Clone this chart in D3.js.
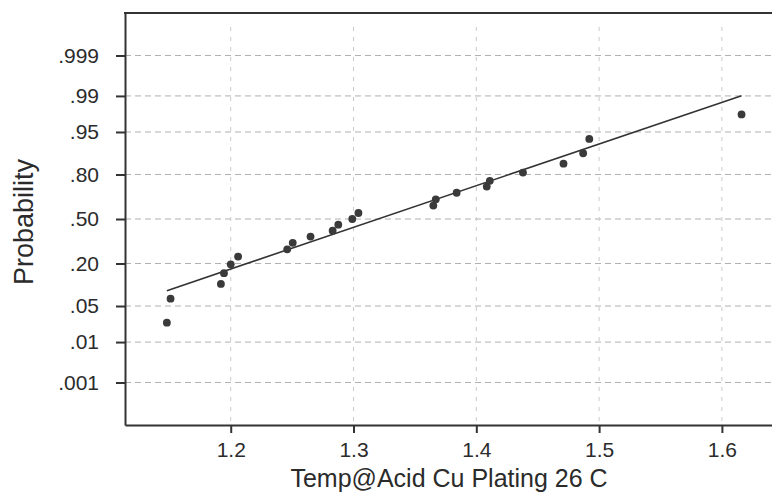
<!DOCTYPE html>
<html>
<head>
<meta charset="utf-8">
<script src="https://cdn.jsdelivr.net/npm/d3@7"></script>
<style>
  body { margin: 0; background: #fff; }
  text { font-family: "Liberation Sans", Arial, sans-serif; fill: #2b2b2b; }
</style>
</head>
<body>
<div id="chart"></div>
<script>
// temperatures, sorted, and their plotting probabilities
var temps = [1.148, 1.151, 1.192, 1.1945, 1.200, 1.206, 1.246, 1.2505, 1.265, 1.283, 1.2876, 1.299,
    1.304, 1.365, 1.367, 1.384, 1.4085, 1.411, 1.438, 1.471, 1.487, 1.492, 1.616];
var probs = [0.025, 0.066, 0.110, 0.153, 0.196, 0.239, 0.283, 0.326, 0.370, 0.413, 0.457, 0.500,
    0.545, 0.600, 0.645, 0.690, 0.730, 0.765, 0.810, 0.852, 0.893, 0.935, 0.976];

var yTickProbs = [0.001, 0.01, 0.05, 0.2, 0.5, 0.8, 0.95, 0.99, 0.999];
var yTickLabels = [".001", ".01", ".05", ".20", ".50", ".80", ".95", ".99", ".999"];
var xTicks = [1.2, 1.3, 1.4, 1.5, 1.6];

// fitted normal line
var fitMean = 1.320, fitSd = 0.127;

// inverse normal cdf (Acklam)
function probit(p) {
    var a = [-3.969683028665376e+01, 2.209460984245205e+02, -2.759285104469687e+02, 1.383577518672690e+02, -3.066479806614716e+01, 2.506628277459239e+00];
    var b = [-5.447609879822406e+01, 1.615858368580409e+02, -1.556989798598866e+02, 6.680131188771972e+01, -1.328068155288572e+01];
    var c = [-7.784894002430293e-03, -3.223964580411365e-01, -2.400758277161838e+00, -2.549732539343734e+00, 4.374664141464968e+00, 2.938163982698783e+00];
    var d = [7.784695709041462e-03, 3.224671290700398e-01, 2.445134137142996e+00, 3.754408661907416e+00];
    var q, r;
    if (p < 0.02425) {
        q = Math.sqrt(-2 * Math.log(p));
        return (((((c[0] * q + c[1]) * q + c[2]) * q + c[3]) * q + c[4]) * q + c[5]) /
            ((((d[0] * q + d[1]) * q + d[2]) * q + d[3]) * q + 1);
    } else if (p > 1 - 0.02425) {
        q = Math.sqrt(-2 * Math.log(1 - p));
        return -(((((c[0] * q + c[1]) * q + c[2]) * q + c[3]) * q + c[4]) * q + c[5]) /
            ((((d[0] * q + d[1]) * q + d[2]) * q + d[3]) * q + 1);
    }
    q = p - 0.5;
    r = q * q;
    return (((((a[0] * r + a[1]) * r + a[2]) * r + a[3]) * r + a[4]) * r + a[5]) * q /
        (((((b[0] * r + b[1]) * r + b[2]) * r + b[3]) * r + b[4]) * r + 1);
}

var margin = { top: 13, right: 0, bottom: 67, left: 125 },
    width = 772 - margin.left - margin.right,
    height = 492 - margin.top - margin.bottom;

var svg = d3.select("#chart")
    .append("svg")
    .attr("width", 772)
    .attr("height", 492)
    .append("g")
    .attr("transform", "translate(" + margin.left + "," + margin.top + ")");

var x = d3.scaleLinear()
    .domain([1.1139, 1.6408])
    .range([0, width]);

var y = d3.scaleLinear()
    .domain([-3.894, 3.894])
    .range([height, 0]);

// grid
svg.selectAll(".hgrid")
    .data(yTickProbs)
    .enter()
    .append("line")
    .attr("x1", 0)
    .attr("x2", width)
    .attr("y1", function (d) { return y(probit(d)) })
    .attr("y2", function (d) { return y(probit(d)) })
    .attr("stroke", "#b0b0b0")
    .attr("stroke-width", 1)
    .attr("stroke-dasharray", "6,4");

svg.selectAll(".vgrid")
    .data(xTicks)
    .enter()
    .append("line")
    .attr("x1", function (d) { return x(d) })
    .attr("x2", function (d) { return x(d) })
    .attr("y1", 14)
    .attr("y2", height)
    .attr("stroke", "#cacaca")
    .attr("stroke-width", 1)
    .attr("stroke-dasharray", "4,6");

// axes
var xAxis = svg.append("g")
    .attr("transform", "translate(0," + height + ")")
    .call(d3.axisBottom(x).tickValues(xTicks).tickSizeInner(8).tickSizeOuter(0).tickPadding(8).tickFormat(d3.format(".1f")));

var yAxis = svg.append("g")
    .call(d3.axisLeft(y)
        .tickValues(yTickProbs.map(probit))
        .tickFormat(function (d, i) { return yTickLabels[i] })
        .tickSizeInner(9).tickSizeOuter(0).tickPadding(17));

[xAxis, yAxis].forEach(function (g) {
    g.select(".domain").attr("stroke", "#333").attr("stroke-width", 2);
    g.selectAll(".tick line").attr("stroke", "#333").attr("stroke-width", 2);
    g.selectAll(".tick text")
        .style("font-family", "'Liberation Sans', Arial, sans-serif")
        .style("font-size", "21px")
        .attr("fill", "#2b2b2b");
});
xAxis.selectAll(".tick text").attr("dy", "0.76em");

svg.append("line")
    .attr("x1", -1)
    .attr("x2", width)
    .attr("y1", 0)
    .attr("y2", 0)
    .attr("stroke", "#333")
    .attr("stroke-width", 2);

// fit line
var fitXs = [temps[0], temps[temps.length - 1]];
svg.append("path")
    .datum(fitXs)
    .attr("fill", "none")
    .attr("stroke", "#333")
    .attr("stroke-width", 1.6)
    .attr("d", d3.line()
        .x(function (d) { return x(d) })
        .y(function (d) { return y((d - fitMean) / fitSd) })
    );

// points
svg.selectAll(".pt")
    .data(temps)
    .enter()
    .append("circle")
    .attr("cx", function (d) { return x(d) })
    .attr("cy", function (d, i) { return y(probit(probs[i])) })
    .attr("r", 3.9)
    .attr("fill", "#3a3a3a");

// titles
svg.append("text")
    .attr("x", 449 - margin.left)
    .attr("y", 487 - margin.top)
    .attr("text-anchor", "middle")
    .style("font-size", "25px")
    .text("Temp@Acid Cu Plating 26 C");

svg.append("text")
    .attr("transform", "translate(" + (33 - margin.left) + "," + (222 - margin.top) + ") rotate(-90)")
    .attr("text-anchor", "middle")
    .style("font-size", "27px")
    .text("Probability");
</script>
</body>
</html>
